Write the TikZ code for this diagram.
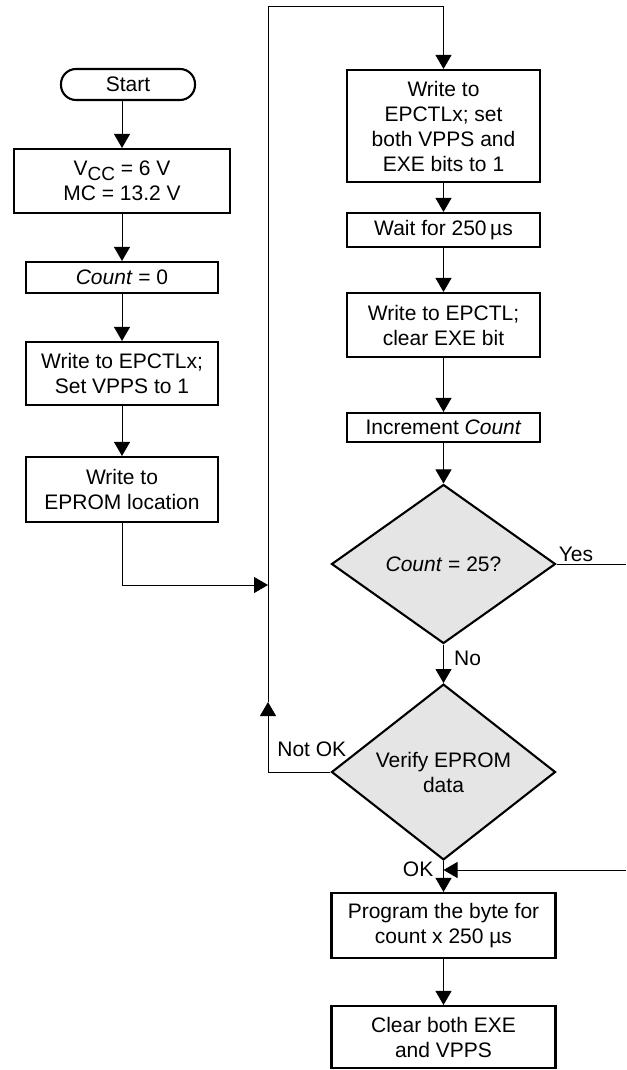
\documentclass[tikz,border=0pt]{standalone}
\usepackage{fontspec}
\setmainfont{Liberation Sans}
\usetikzlibrary{shapes.geometric, arrows.meta}

\begin{document}
\begin{tikzpicture}[x=1pt, y=-1pt,
    font=\fontsize{21}{25}\selectfont,
    box/.style={draw, line width=2.1pt, align=center, inner sep=0pt},
    decide/.style={diamond, draw, line width=2.1pt, fill=black!10, align=center,
        inner sep=0pt, minimum width=224pt, minimum height=159pt},
    arr/.style={line width=0.9pt, -{Triangle[length=14pt, width=16pt]}},
    line/.style={line width=0.9pt},
    lbl/.style={inner sep=0pt}]
    \useasboundingbox (0,0) rectangle (626,1070);

    % Левая колонка
    \node[box, rounded corners=15pt, minimum width=134pt, minimum height=31pt] (start) at (128,84.5) {Start};
    \node[box, minimum width=216pt, minimum height=64pt] (vcc) at (122,181)
        {V\raisebox{-5pt}{\fontsize{19}{19}\selectfont CC} = 6 V\\MC = 13.2 V};
    \node[box, minimum width=192pt, minimum height=31pt] (cnt) at (122,277.5) {\textit{Count} = 0};
    \node[box, minimum width=192pt, minimum height=63pt] (wrx) at (122,373.5) {Write to EPCTLx;\\Set VPPS to 1};
    \node[box, minimum width=192pt, minimum height=65pt] (wrmem) at (122,489.5) {Write to\\EPROM location};

    % Правая колонка
    \node[box, minimum width=193pt, minimum height=112pt] (setbits) at (443.5,126)
        {Write to\\EPCTLx; set\\both VPPS and\\EXE bits to 1};
    \node[box, minimum width=193pt, minimum height=34pt] (wait) at (443.5,230) {Wait for 250\,µs};
    \node[box, minimum width=193pt, minimum height=64pt] (clrexe) at (443.5,325) {Write to EPCTL;\\clear EXE bit};
    \node[box, minimum width=193pt, minimum height=29pt] (inc) at (443.5,427.5) {Increment \textit{Count}};
    \node[decide] (last) at (443.5,564) {\textit{Count} = 25?};
    \node[decide] (verify) at (443.5,772) {Verify EPROM\\data};
    \node[box, minimum width=224pt, minimum height=65pt] (prog) at (443.5,925.5) {Program the byte for\\count x 250 µs};
    \node[box, minimum width=224pt, minimum height=62pt] (clr) at (443.5,1037) {Clear both EXE\\and VPPS};

    % Точки линий
    \coordinate (join) at (268,585);
    \coordinate (loopup) at (268,702);
    \coordinate (looptop) at (268,6);
    \coordinate (yesout) at (626,564);
    \coordinate (retin) at (626,870);

    % Стрелки
    \draw[arr] (start.south -| vcc.north) -- (vcc.north);
    \draw[arr] (vcc) -- (cnt);
    \draw[arr] (cnt) -- (wrx);
    \draw[arr] (wrx) -- (wrmem);
    \draw[arr] (wrmem) |- (join);
    \draw[arr] (verify.west) -| (loopup);
    \draw[arr] (loopup) -- (looptop) -| (setbits);
    \draw[arr] (setbits) -- (wait);
    \draw[arr] (wait) -- (clrexe);
    \draw[arr] (clrexe) -- (inc);
    \draw[arr] (inc) -- (last);
    \draw[arr] (last) -- (verify);
    \draw[line] (last.east) -- (yesout);
    \draw[arr] (retin) -- (retin -| verify.south);
    \draw[arr] (verify) -- (prog);
    \draw[arr] (prog) -- (clr);

    % Подписи
    \node[lbl, anchor=south west] (yes) at ([shift={(2,-2)}]last.east) {Yes};
    \node[lbl, anchor=base west] (no) at ([shift={(10.5,21)}]last.south) {No};
    \node[lbl, anchor=base east] (notok) at ([shift={(16,-16)}]verify.west) {Not OK};
    \node[lbl, anchor=base east] (ok) at ([shift={(-10,16)}]verify.south) {OK};
\end{tikzpicture}
\end{document}
